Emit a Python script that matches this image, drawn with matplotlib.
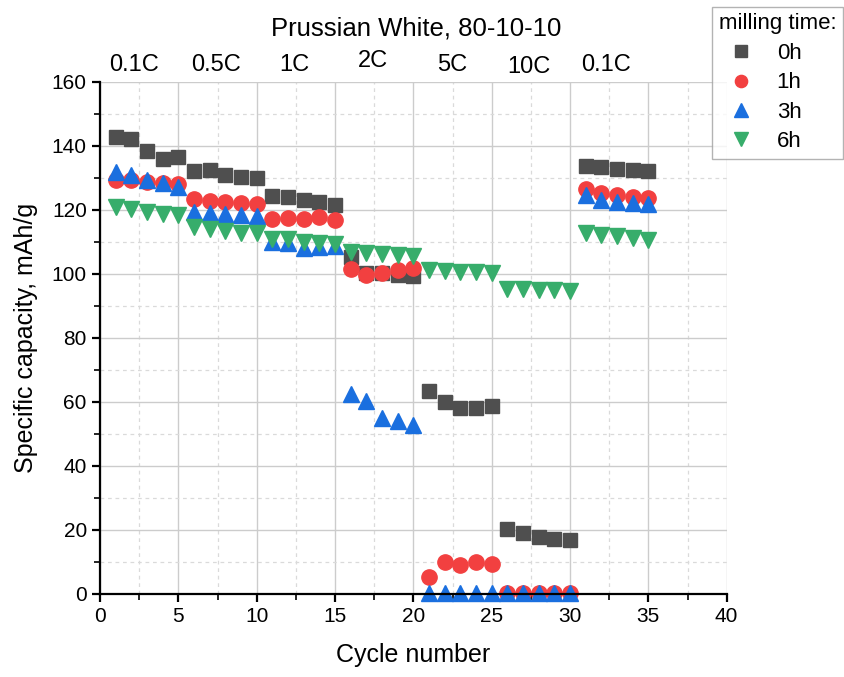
import numpy as np
import matplotlib
matplotlib.use("Agg")
import matplotlib.pyplot as plt
from matplotlib.ticker import MultipleLocator

plt.rcParams['font.family'] = ['Liberation Sans', 'DejaVu Sans']

cycles = np.arange(1, 36)

cap_0h = [142.9, 142.1, 138.4, 135.8, 136.5,
          132.3, 132.5, 130.9, 130.4, 130.0,
          124.4, 124.0, 123.1, 122.4, 121.5,
          105.4, 100.2, 100.2, 99.7, 99.5,
          63.5, 59.9, 58.0, 58.2, 58.6,
          20.2, 19.0, 17.9, 17.2, 16.9,
          133.7, 133.3, 132.8, 132.6, 132.1]
cap_1h = [129.4, 129.4, 128.8, 128.5, 128.1,
          123.3, 122.9, 122.6, 122.3, 121.9,
          117.2, 117.4, 117.1, 117.9, 116.7,
          101.5, 99.8, 100.2, 101.2, 101.8,
          5.4, 9.9, 9.1, 10.1, 9.4,
          0.3, 0.3, 0.3, 0.3, 0.3,
          126.5, 125.2, 124.7, 124.0, 123.7]
cap_3h = [131.8, 131.0, 129.4, 128.3, 127.3,
          119.2, 118.9, 118.6, 118.3, 118.1,
          110.1, 109.6, 108.0, 108.5, 108.7,
          62.6, 60.4, 55.1, 54.2, 52.8,
          0.2, 0.2, 0.2, 0.2, 0.2,
          0.2, 0.2, 0.2, 0.2, 0.2,
          124.5, 123.1, 122.4, 122.1, 121.7]
cap_6h = [120.8, 120.3, 119.3, 118.7, 118.4,
          114.5, 114.0, 113.4, 112.9, 112.7,
          110.8, 110.8, 110.1, 109.8, 109.4,
          106.7, 106.5, 106.1, 105.9, 105.6,
          101.2, 101.0, 100.7, 100.5, 100.4,
          95.2, 95.2, 95.0, 95.0, 94.7,
          112.7, 112.0, 111.7, 111.3, 110.6]

rate_labels = ["0.1C", "0.5C", "1C", "2C", "5C", "10C", "0.1C"]
rate_x = [2.2, 7.4, 12.4, 17.4, 22.5, 27.4, 32.3]
rate_y = [0, 0, 0, 3, 0, -1, 0]

fig = plt.figure(figsize=(8.44, 6.77), dpi=100)
ax = fig.add_axes([0.1185, 0.1226, 0.7425, 0.7565])

ax.plot(cycles, cap_0h, ls="none", marker="s", ms=10, color="#4f4f4f", label="0h", clip_on=False)
ax.plot(cycles, cap_1h, ls="none", marker="o", ms=11, color="#f24040", label="1h", clip_on=False)
ax.plot(cycles, cap_3h, ls="none", marker="^", ms=12, color="#1a6fdf", label="3h", clip_on=False)
ax.plot(cycles, cap_6h, ls="none", marker="v", ms=12, color="#37ad6b", label="6h", clip_on=False)

ax.set_xlim(0, 40)
ax.set_ylim(0, 160)
ax.xaxis.set_major_locator(MultipleLocator(5))
ax.xaxis.set_minor_locator(MultipleLocator(2.5))
ax.yaxis.set_major_locator(MultipleLocator(20))
ax.yaxis.set_minor_locator(MultipleLocator(10))
ax.grid(which="major", color="#cccccc", lw=1.0, ls="-")
ax.grid(which="minor", color="#dadada", lw=0.9, ls=(0, (3, 3)))
ax.set_axisbelow(True)

for s in ["top", "right"]:
    ax.spines[s].set_visible(False)
for s in ["left", "bottom"]:
    ax.spines[s].set_linewidth(1.6)
ax.tick_params(which="major", direction="out", length=6, width=1.6, labelsize=15)
ax.tick_params(which="minor", direction="out", length=4, width=1.2)

ax.set_xlabel("Cycle number", fontsize=18, labelpad=12)
ax.set_ylabel("Specific capacity, mAh/g", fontsize=18, labelpad=10)

for lab, xv, dy in zip(rate_labels, rate_x, rate_y):
    ax.annotate(lab, xy=(xv, 1.0), xycoords=("data", "axes fraction"),
                xytext=(0, 12 + dy), textcoords="offset points",
                ha="center", va="center", fontsize=17)

fig.text(0.493, 0.958, "Prussian White, 80-10-10", ha="center", va="center", fontsize=18.5)

leg = ax.legend(title="milling time:", loc="upper right",
                bbox_to_anchor=(0.999, 0.99), bbox_transform=fig.transFigure,
                borderaxespad=0, fontsize=16, title_fontsize=16,
                frameon=True, fancybox=False, handletextpad=0.6, handlelength=2.0,
                markerscale=0.8, borderpad=0.3, labelspacing=0.38, alignment="left")
leg.get_frame().set_edgecolor("#a0a0a0")
leg.get_frame().set_linewidth(1.0)

fig.savefig("out.png", dpi=100)
